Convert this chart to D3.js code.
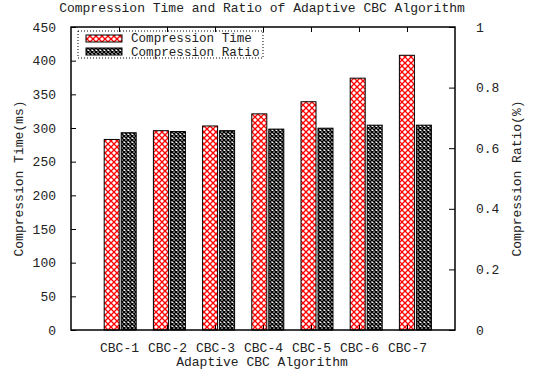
<!DOCTYPE html>
<html>
<head>
<meta charset="utf-8">
<script src="https://cdn.jsdelivr.net/npm/d3@7"></script>
<style>
  body { margin: 0; background: #fff; }
  text { font-family: "Liberation Mono", "Courier New", monospace; font-size: 13px; fill: #222; }
</style>
</head>
<body>
<div id="chart"></div>
<script>
const categories = ["CBC-1", "CBC-2", "CBC-3", "CBC-4", "CBC-5", "CBC-6", "CBC-7"];
const compressionTime = [283, 296, 303, 321, 339, 374, 408];
const compressionRatio = [0.651, 0.655, 0.658, 0.663, 0.666, 0.676, 0.676];
const yTicks = [0, 50, 100, 150, 200, 250, 300, 350, 400, 450];
const y2Ticks = [0, 0.2, 0.4, 0.6, 0.8, 1];

const width = 533;
const height = 373;
const margin = { top: 27, right: 78, bottom: 43, left: 71 };

const svg = d3.select("#chart")
    .append("svg")
    .attr("width", width)
    .attr("height", height);

const defs = svg.append("defs");

// red crosshatch
const pRed = defs.append("pattern")
    .attr("id", "hatchRed")
    .attr("patternUnits", "userSpaceOnUse")
    .attr("width", 6).attr("height", 6);
pRed.append("rect").attr("width", 6).attr("height", 6).attr("fill", "#fff");
pRed.append("path").attr("d", "M0,0L6,6M6,0L0,6").attr("stroke", "#f00").attr("stroke-width", 1.3);

// dark dense pattern
const pBlk = defs.append("pattern")
    .attr("id", "hatchBlack")
    .attr("patternUnits", "userSpaceOnUse")
    .attr("width", 4).attr("height", 4);
pBlk.append("rect").attr("width", 4).attr("height", 4).attr("fill", "#fff");
pBlk.append("path").attr("d", "M0,0L4,4M4,0L0,4").attr("stroke", "#000").attr("stroke-width", 1.5);

const plotLeft = margin.left;
const plotRight = width - margin.right;
const plotTop = margin.top;
const plotBottom = height - margin.bottom;

const x = d3.scaleLinear()
    .domain([0, 8])
    .range([plotLeft, plotRight]);

// bar clusters sit on a slightly wider spacing than the tick labels
const xBar = d3.scaleLinear()
    .domain([0, 8])
    .range([plotLeft, plotLeft + 8 * 49.2]);

const y = d3.scaleLinear()
    .domain([0, 450])
    .range([plotBottom, plotTop]);

const y2 = d3.scaleLinear()
    .domain([0, 1])
    .range([plotBottom, plotTop]);

const barW = 15;

svg.append("g")
    .selectAll("rect")
    .data(compressionTime)
    .join("rect")
    .attr("x", (d, i) => xBar(i + 1) - 16)
    .attr("y", d => y(d))
    .attr("width", barW)
    .attr("height", d => plotBottom - y(d))
    .attr("fill", "url(#hatchRed)")
    .attr("stroke", "#000")
    .attr("stroke-width", 1);

svg.append("g")
    .selectAll("rect")
    .data(compressionRatio)
    .join("rect")
    .attr("x", (d, i) => xBar(i + 1) + 1)
    .attr("y", d => y2(d))
    .attr("width", barW)
    .attr("height", d => plotBottom - y2(d))
    .attr("fill", "url(#hatchBlack)")
    .attr("stroke", "#000")
    .attr("stroke-width", 1);

// axes with inward ticks
const catTicks = categories.map((c, i) => i + 1);

const gBottom = svg.append("g")
    .attr("transform", `translate(0,${plotBottom})`)
    .call(d3.axisBottom(x).tickValues(catTicks).tickSizeInner(-5).tickSizeOuter(0)
        .tickPadding(13).tickFormat((d, i) => categories[i]));

const gTop = svg.append("g")
    .attr("transform", `translate(0,${plotTop})`)
    .call(d3.axisTop(x).tickValues(catTicks).tickSizeInner(-5).tickSizeOuter(0).tickFormat(""));

const gLeft = svg.append("g")
    .attr("transform", `translate(${plotLeft},0)`)
    .call(d3.axisLeft(y).tickValues(yTicks).tickSizeInner(-5).tickSizeOuter(0).tickPadding(15));

const gRight = svg.append("g")
    .attr("transform", `translate(${plotRight},0)`)
    .call(d3.axisRight(y2).tickValues(y2Ticks).tickSizeInner(-6).tickSizeOuter(0).tickPadding(21)
        .tickFormat(d3.format("")));

[gBottom, gTop, gLeft, gRight].forEach(g => {
    g.select(".domain").remove();
    g.selectAll(".tick line").attr("stroke", "#000").attr("stroke-width", 1);
    g.selectAll(".tick text")
        .attr("font-family", null)
        .attr("font-size", null)
        .attr("fill", null);
});

// border
svg.append("rect")
    .attr("x", plotLeft)
    .attr("y", plotTop)
    .attr("width", plotRight - plotLeft)
    .attr("height", plotBottom - plotTop)
    .attr("fill", "none")
    .attr("stroke", "#000")
    .attr("stroke-width", 1.5);

// legend
const legend = svg.append("g");
legend.append("rect")
    .attr("x", 78).attr("y", 31)
    .attr("width", 185).attr("height", 27)
    .attr("fill", "none")
    .attr("stroke", "#000")
    .attr("stroke-width", 1)
    .attr("stroke-dasharray", "1,2");

const legendItems = [
    { label: "Compression Time", fill: "url(#hatchRed)" },
    { label: "Compression Ratio", fill: "url(#hatchBlack)" }
];
legendItems.forEach((d, i) => {
    legend.append("rect")
        .attr("x", 86).attr("y", 35 + i * 13)
        .attr("width", 36).attr("height", 7)
        .attr("fill", d.fill)
        .attr("stroke", "#000")
        .attr("stroke-width", 1);
    legend.append("text")
        .attr("x", 131).attr("y", 42 + i * 14)
        .style("font-size", "12.6px")
        .text(d.label);
});

// titles
svg.append("text")
    .attr("x", 262)
    .attr("y", 12)
    .attr("text-anchor", "middle")
    .text("Compression Time and Ratio of Adaptive CBC Algorithm");

svg.append("text")
    .attr("x", 262)
    .attr("y", 366)
    .attr("text-anchor", "middle")
    .text("Adaptive CBC Algorithm");

svg.append("text")
    .attr("transform", "rotate(-90)")
    .attr("x", -(plotTop + plotBottom) / 2)
    .attr("y", 23)
    .attr("text-anchor", "middle")
    .text("Compression Time(ms)");

svg.append("text")
    .attr("transform", "rotate(-90)")
    .attr("x", -(plotTop + plotBottom) / 2)
    .attr("y", 521)
    .attr("text-anchor", "middle")
    .text("Compression Ratio(%)");
</script>
</body>
</html>
